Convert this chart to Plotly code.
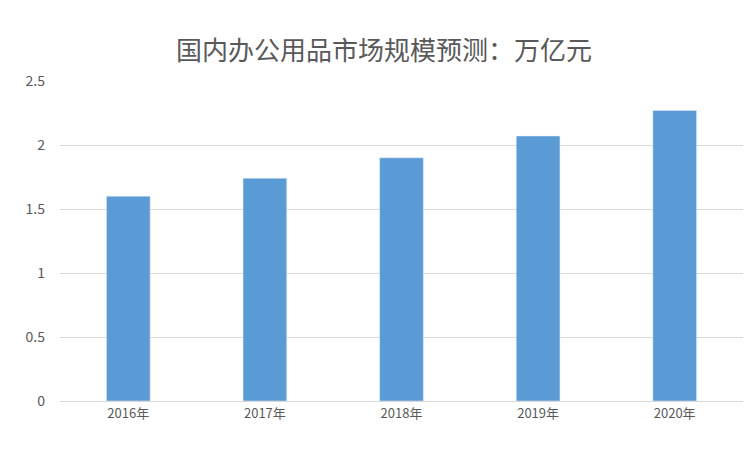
import plotly.graph_objects as go

categories = ["2016年", "2017年", "2018年", "2019年", "2020年"]
values = [1.60, 1.74, 1.90, 2.07, 2.27]
tick_vals = [0, 0.5, 1, 1.5, 2, 2.5]
tick_text = ["0", "0.5", "1", "1.5", "2", "2.5"]

fig = go.Figure(go.Bar(x=categories, y=values, marker_color="#5B9BD5", width=0.32))
fig.update_layout(
    width=752, height=452,
    paper_bgcolor="white", plot_bgcolor="white",
    margin=dict(l=52, r=17, t=73, b=59),
    title=dict(text="国内办公用品市场规模预测：万亿元", x=0.5, xanchor="center", y=0.925,
               font=dict(family="Noto Sans CJK SC", size=26, color="#595959")),
    font=dict(family="Noto Sans CJK SC", size=13, color="#595959"),
    showlegend=False,
)
fig.update_xaxes(showline=True, linecolor="#D9D9D9", ticks="", tickfont=dict(size=13))
fig.update_yaxes(range=[0, 2.5], tickvals=tick_vals, ticktext=tick_text, gridcolor="#D9D9D9",
                 zeroline=False, ticklabelstandoff=14, tickfont=dict(size=14))
fig.write_html("out.html")
